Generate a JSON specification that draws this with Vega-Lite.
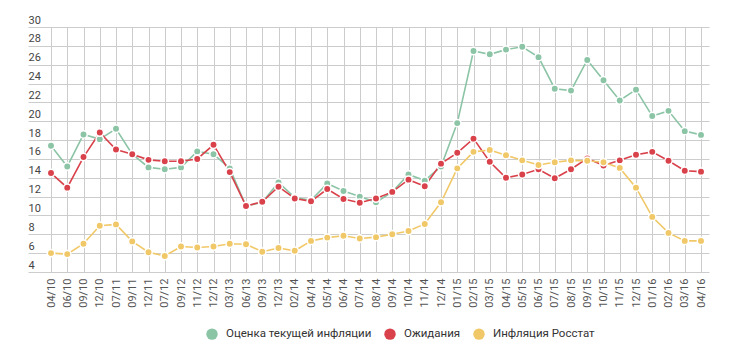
{
  "$schema": "https://vega.github.io/schema/vega-lite/v6.json",
  "width": 681,
  "height": 245,
  "autosize": {"type": "none"},
  "padding": {"left": 28, "top": 27, "right": 41, "bottom": 82},
  "background": "white",
  "config": {
    "font": "Roboto",
    "view": {"stroke": null},
    "axis": {"gridColor": "#cccccc", "gridOpacity": 1, "gridWidth": 1}
  },
  "data": {
    "values": [
      {"d":"04/10","s":"Оценка текущей инфляции","v":17.4},
      {"d":"06/10","s":"Оценка текущей инфляции","v":15.2},
      {"d":"09/10","s":"Оценка текущей инфляции","v":18.6},
      {"d":"12/10","s":"Оценка текущей инфляции","v":18.1},
      {"d":"07/11","s":"Оценка текущей инфляции","v":19.2},
      {"d":"09/11","s":"Оценка текущей инфляции","v":16.5},
      {"d":"12/11","s":"Оценка текущей инфляции","v":15.1},
      {"d":"07/12","s":"Оценка текущей инфляции","v":14.9},
      {"d":"09/12","s":"Оценка текущей инфляции","v":15.1},
      {"d":"11/12","s":"Оценка текущей инфляции","v":16.8},
      {"d":"12/12","s":"Оценка текущей инфляции","v":16.5},
      {"d":"03/13","s":"Оценка текущей инфляции","v":15.0},
      {"d":"06/13","s":"Оценка текущей инфляции","v":11.0},
      {"d":"09/13","s":"Оценка текущей инфляции","v":11.4},
      {"d":"12/13","s":"Оценка текущей инфляции","v":13.5},
      {"d":"02/14","s":"Оценка текущей инфляции","v":11.9},
      {"d":"04/14","s":"Оценка текущей инфляции","v":11.6},
      {"d":"05/14","s":"Оценка текущей инфляции","v":13.4},
      {"d":"06/14","s":"Оценка текущей инфляции","v":12.6},
      {"d":"07/14","s":"Оценка текущей инфляции","v":12.0},
      {"d":"08/14","s":"Оценка текущей инфляции","v":11.4},
      {"d":"09/14","s":"Оценка текущей инфляции","v":12.5},
      {"d":"10/14","s":"Оценка текущей инфляции","v":14.35},
      {"d":"11/14","s":"Оценка текущей инфляции","v":13.7},
      {"d":"12/14","s":"Оценка текущей инфляции","v":15.2},
      {"d":"01/15","s":"Оценка текущей инфляции","v":19.8},
      {"d":"02/15","s":"Оценка текущей инфляции","v":27.45},
      {"d":"03/15","s":"Оценка текущей инфляции","v":27.1},
      {"d":"04/15","s":"Оценка текущей инфляции","v":27.6},
      {"d":"05/15","s":"Оценка текущей инфляции","v":27.9},
      {"d":"06/15","s":"Оценка текущей инфляции","v":26.8},
      {"d":"07/15","s":"Оценка текущей инфляции","v":23.45},
      {"d":"08/15","s":"Оценка текущей инфляции","v":23.25},
      {"d":"09/15","s":"Оценка текущей инфляции","v":26.5},
      {"d":"10/15","s":"Оценка текущей инфляции","v":24.35},
      {"d":"11/15","s":"Оценка текущей инфляции","v":22.2},
      {"d":"12/15","s":"Оценка текущей инфляции","v":23.35},
      {"d":"01/16","s":"Оценка текущей инфляции","v":20.55},
      {"d":"02/16","s":"Оценка текущей инфляции","v":21.1},
      {"d":"03/16","s":"Оценка текущей инфляции","v":18.95},
      {"d":"04/16","s":"Оценка текущей инфляции","v":18.55},
      {"d":"04/10","s":"Ожидания","v":14.5},
      {"d":"06/10","s":"Ожидания","v":12.95},
      {"d":"09/10","s":"Ожидания","v":16.2},
      {"d":"12/10","s":"Ожидания","v":18.8},
      {"d":"07/11","s":"Ожидания","v":17.0},
      {"d":"09/11","s":"Ожидания","v":16.5},
      {"d":"12/11","s":"Ожидания","v":15.9},
      {"d":"07/12","s":"Ожидания","v":15.75},
      {"d":"09/12","s":"Ожидания","v":15.75},
      {"d":"11/12","s":"Ожидания","v":16.0},
      {"d":"12/12","s":"Ожидания","v":17.5},
      {"d":"03/13","s":"Ожидания","v":14.6},
      {"d":"06/13","s":"Ожидания","v":11.0},
      {"d":"09/13","s":"Ожидания","v":11.45},
      {"d":"12/13","s":"Ожидания","v":13.05},
      {"d":"02/14","s":"Ожидания","v":11.8},
      {"d":"04/14","s":"Ожидания","v":11.5},
      {"d":"05/14","s":"Ожидания","v":12.8},
      {"d":"06/14","s":"Ожидания","v":11.75},
      {"d":"07/14","s":"Ожидания","v":11.35},
      {"d":"08/14","s":"Ожидания","v":11.8},
      {"d":"09/14","s":"Ожидания","v":12.5},
      {"d":"10/14","s":"Ожидания","v":13.8},
      {"d":"11/14","s":"Ожидания","v":13.1},
      {"d":"12/14","s":"Ожидания","v":15.5},
      {"d":"01/15","s":"Ожидания","v":16.65},
      {"d":"02/15","s":"Ожидания","v":18.15},
      {"d":"03/15","s":"Ожидания","v":15.7},
      {"d":"04/15","s":"Ожидания","v":14.0},
      {"d":"05/15","s":"Ожидания","v":14.35},
      {"d":"06/15","s":"Ожидания","v":14.9},
      {"d":"07/15","s":"Ожидания","v":13.95},
      {"d":"08/15","s":"Ожидания","v":14.9},
      {"d":"09/15","s":"Ожидания","v":16.05},
      {"d":"10/15","s":"Ожидания","v":15.3},
      {"d":"11/15","s":"Ожидания","v":15.85},
      {"d":"12/15","s":"Ожидания","v":16.45},
      {"d":"01/16","s":"Ожидания","v":16.75},
      {"d":"02/16","s":"Ожидания","v":15.8},
      {"d":"03/16","s":"Ожидания","v":14.75},
      {"d":"04/16","s":"Ожидания","v":14.65},
      {"d":"04/10","s":"Инфляция Росстат","v":6.0},
      {"d":"06/10","s":"Инфляция Росстат","v":5.9},
      {"d":"09/10","s":"Инфляция Росстат","v":7.0},
      {"d":"12/10","s":"Инфляция Росстат","v":8.9},
      {"d":"07/11","s":"Инфляция Росстат","v":9.05},
      {"d":"09/11","s":"Инфляция Росстат","v":7.25},
      {"d":"12/11","s":"Инфляция Росстат","v":6.1},
      {"d":"07/12","s":"Инфляция Росстат","v":5.7},
      {"d":"09/12","s":"Инфляция Росстат","v":6.7},
      {"d":"11/12","s":"Инфляция Росстат","v":6.6},
      {"d":"12/12","s":"Инфляция Росстат","v":6.7},
      {"d":"03/13","s":"Инфляция Росстат","v":7.0},
      {"d":"06/13","s":"Инфляция Росстат","v":6.95},
      {"d":"09/13","s":"Инфляция Росстат","v":6.15},
      {"d":"12/13","s":"Инфляция Росстат","v":6.55},
      {"d":"02/14","s":"Инфляция Росстат","v":6.25},
      {"d":"04/14","s":"Инфляция Росстат","v":7.3},
      {"d":"05/14","s":"Инфляция Росстат","v":7.65},
      {"d":"06/14","s":"Инфляция Росстат","v":7.85},
      {"d":"07/14","s":"Инфляция Росстат","v":7.55},
      {"d":"08/14","s":"Инфляция Росстат","v":7.7},
      {"d":"09/14","s":"Инфляция Росстат","v":8.0},
      {"d":"10/14","s":"Инфляция Росстат","v":8.35},
      {"d":"11/14","s":"Инфляция Росстат","v":9.1},
      {"d":"12/14","s":"Инфляция Росстат","v":11.4},
      {"d":"01/15","s":"Инфляция Росстат","v":15.0},
      {"d":"02/15","s":"Инфляция Росстат","v":16.75},
      {"d":"03/15","s":"Инфляция Росстат","v":16.95},
      {"d":"04/15","s":"Инфляция Росстат","v":16.4},
      {"d":"05/15","s":"Инфляция Росстат","v":15.85},
      {"d":"06/15","s":"Инфляция Росстат","v":15.35},
      {"d":"07/15","s":"Инфляция Росстат","v":15.65},
      {"d":"08/15","s":"Инфляция Росстат","v":15.85},
      {"d":"09/15","s":"Инфляция Росстат","v":15.8},
      {"d":"10/15","s":"Инфляция Росстат","v":15.65},
      {"d":"11/15","s":"Инфляция Росстат","v":15.05},
      {"d":"12/15","s":"Инфляция Росстат","v":12.95},
      {"d":"01/16","s":"Инфляция Росстат","v":9.85},
      {"d":"02/16","s":"Инфляция Росстат","v":8.15},
      {"d":"03/16","s":"Инфляция Росстат","v":7.3},
      {"d":"04/16","s":"Инфляция Росстат","v":7.3}
    ]
  },
  "encoding": {
    "x": {
      "field": "d", "type": "ordinal", "sort": null,
      "scale": {"type": "point", "padding": 0.954, "align": 0.742},
      "axis": {"title": null, "labelAngle": 270, "labelPadding": 6, "labelFontSize": 11, "labelColor": "#555555",
               "domain": false, "ticks": false, "grid": true}
    },
    "y": {
      "field": "v", "type": "quantitative",
      "scale": {"domain": [4, 30], "nice": false, "zero": false},
      "axis": {"title": null, "values": [4,6,8,10,12,14,16,18,20,22,24,26,28,30], "domain": false, "ticks": false,
               "labelAlign": "left", "labelPadding": 0, "labelBaseline": "alphabetic", "labelOffset": -4,
               "labelFontSize": 11, "labelColor": "#444444", "grid": true}
    },
    "color": {
      "field": "s", "type": "nominal",
      "scale": {"domain": ["Оценка текущей инфляции", "Ожидания", "Инфляция Росстат"], "range": ["#8cc4a6", "#d9414b", "#f1c868"]},
      "legend": {"title": null, "orient": "none", "direction": "horizontal", "legendX": 178, "legendY": 301,
                 "symbolType": "circle", "symbolSize": 130, "symbolStrokeWidth": 0, "symbolOpacity": 1,
                 "labelFontSize": 11.5, "labelColor": "#333333", "columnPadding": 12, "labelOffset": 8}
    }
  },
  "layer": [
    {"mark": {"type": "line", "strokeWidth": 1.6}},
    {"mark": {"type": "point", "filled": true, "size": 55, "opacity": 1, "stroke": "white", "strokeWidth": 1.5}}
  ]
}
